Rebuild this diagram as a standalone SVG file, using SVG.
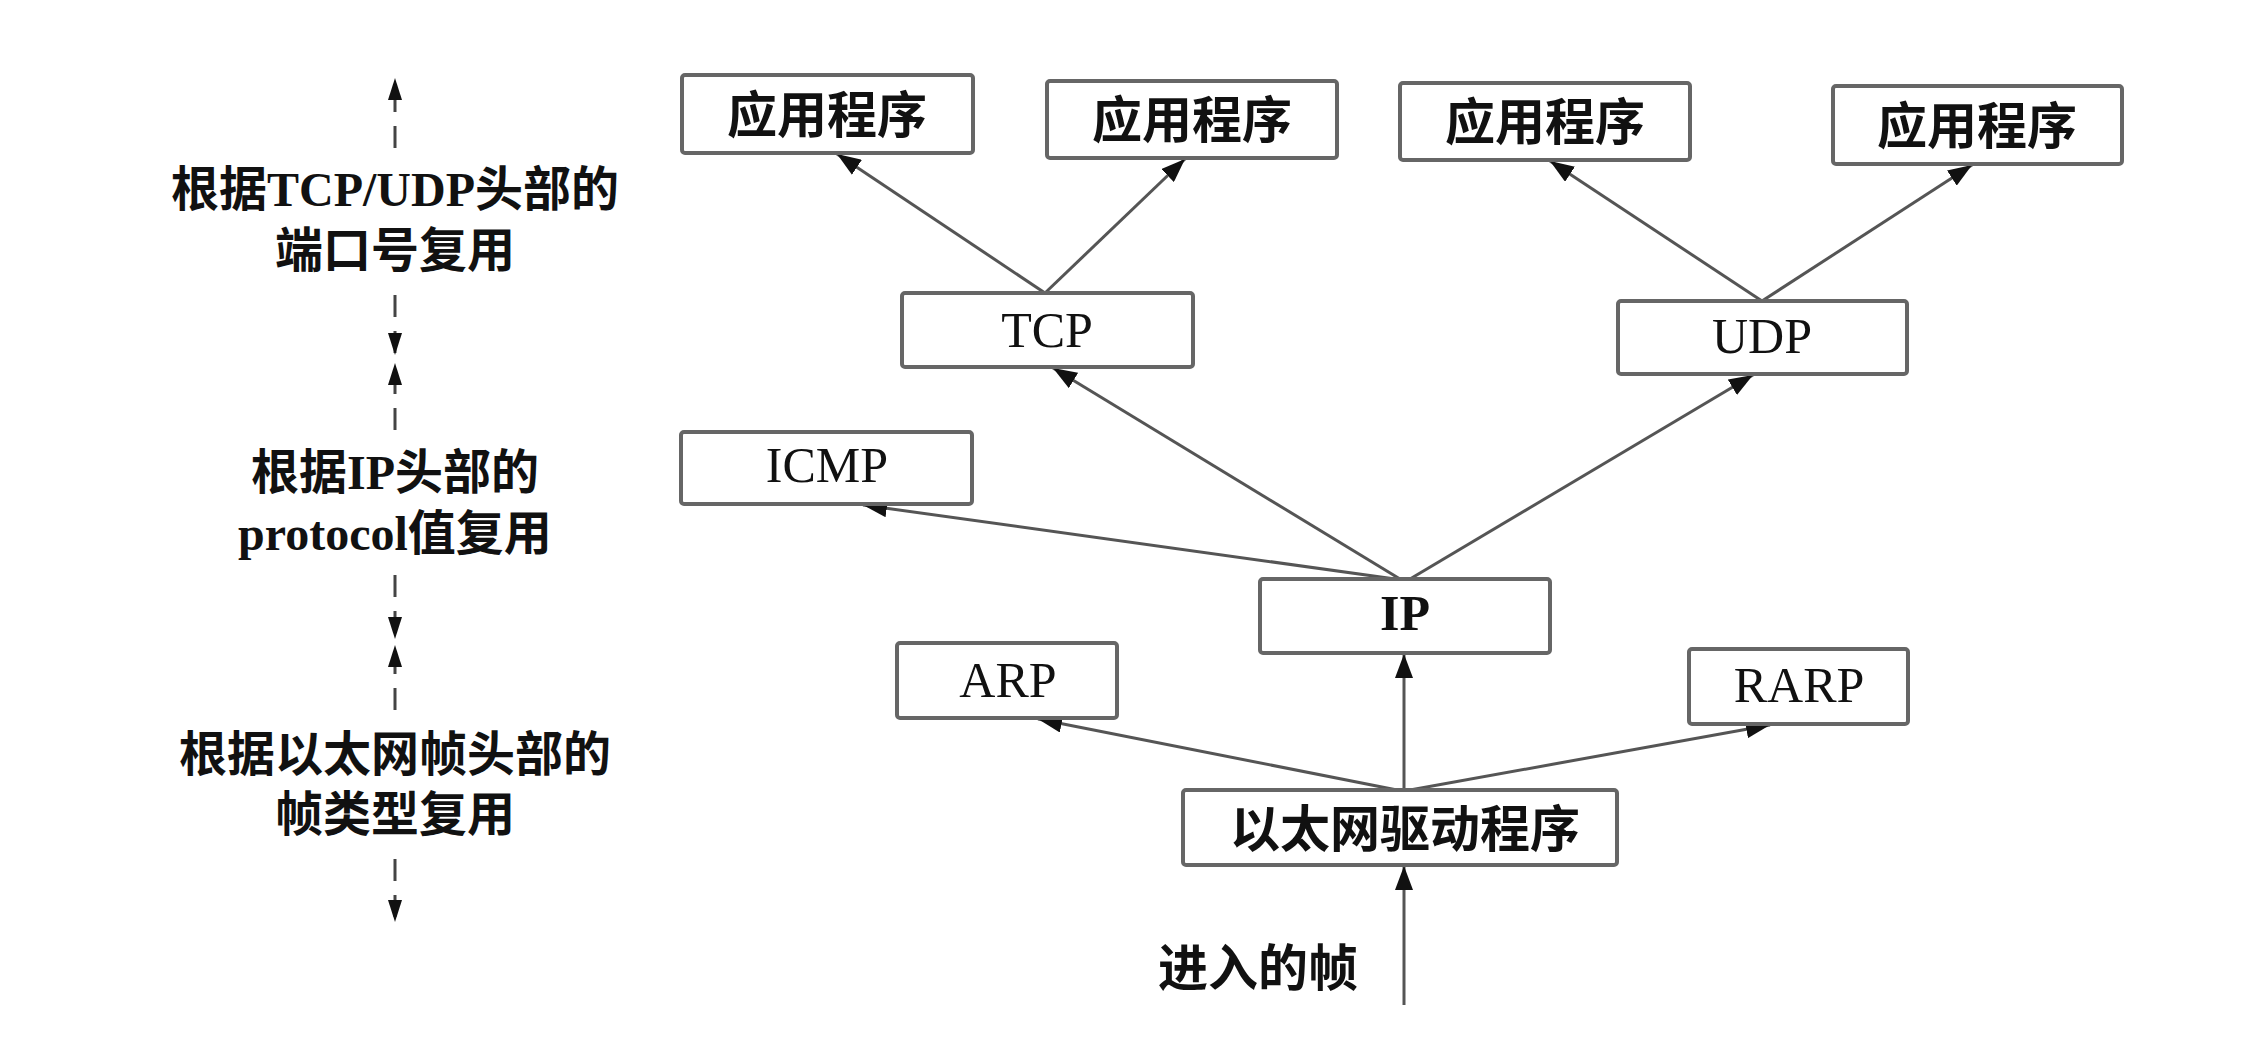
<svg xmlns="http://www.w3.org/2000/svg" width="2262" height="1044" viewBox="0 0 2262 1044">
<style>
.box{fill:#fff;stroke:#666;stroke-width:4}
.lbl{font-family:"Liberation Serif","Noto Sans CJK SC",serif;font-size:50px;fill:#111;text-anchor:middle}
.cjk{font-family:"Noto Sans CJK SC","Liberation Serif",sans-serif;font-size:50px;fill:#111;text-anchor:middle;font-weight:bold}
.side{font-family:"Liberation Serif","Noto Sans CJK SC",serif;font-size:48px;fill:#111;text-anchor:middle;font-weight:bold}
.con{stroke:#555;stroke-width:3;fill:none;marker-end:url(#ah)}
.dash{stroke:#444;stroke-width:3;fill:none;stroke-dasharray:22 14}
.da{marker-end:url(#dh)}
</style>
<defs>
<marker id="ah" markerUnits="userSpaceOnUse" markerWidth="26" markerHeight="18" refX="24" refY="9" orient="auto">
<path d="M0,0 L24,9 L0,18 z" fill="#111"/>
</marker>
<marker id="dh" markerUnits="userSpaceOnUse" markerWidth="24" markerHeight="14" refX="22" refY="7" orient="auto">
<path d="M0,0 L22,7 L0,14 z" fill="#111"/>
</marker>
</defs>
<g id="side-labels">
<text class="side" x="395" y="206">根据TCP/UDP头部的</text>
<text class="side" x="395" y="267">端口号复用</text>
<text class="side" x="395" y="489">根据IP头部的</text>
<text class="side" x="395" y="550">protocol值复用</text>
<text class="side" x="395" y="771">根据以太网帧头部的</text>
<text class="side" x="395" y="831">帧类型复用</text>
</g>
<g id="dashed-arrows">
<path class="dash da" d="M395,148 L395,78"/>
<path class="dash da" d="M395,295 L395,355"/>
<path class="dash da" d="M395,430 L395,363"/>
<path class="dash da" d="M395,575 L395,639"/>
<path class="dash da" d="M395,710 L395,645"/>
<path class="dash da" d="M395,859 L395,922"/>
</g>
<g id="connectors">
<path class="con" d="M1045,293 L837,154"/>
<path class="con" d="M1045,293 L1185,159"/>
<path class="con" d="M1762,301 L1550,161"/>
<path class="con" d="M1762,301 L1972,165"/>
<path class="con" d="M1400,579 L1053,368"/>
<path class="con" d="M1410,579 L1753,375"/>
<path class="con" d="M1395,579 L863,505"/>
<path class="con" d="M1404,790 L1404,654"/>
<path class="con" d="M1397,790 L1038,719"/>
<path class="con" d="M1410,790 L1770,725"/>
<path class="con" d="M1404,1005 L1404,866"/>
</g>
<g id="app1"><rect class="box" x="682" y="75" width="291" height="78" rx="3"/><text class="cjk" x="827" y="133">应用程序</text></g>
<g id="app2"><rect class="box" x="1047" y="81" width="290" height="77" rx="3"/><text class="cjk" x="1192" y="138">应用程序</text></g>
<g id="app3"><rect class="box" x="1400" y="83" width="290" height="77" rx="3"/><text class="cjk" x="1545" y="140">应用程序</text></g>
<g id="app4"><rect class="box" x="1833" y="86" width="289" height="78" rx="3"/><text class="cjk" x="1977" y="144">应用程序</text></g>
<g id="tcp"><rect class="box" x="902" y="293" width="291" height="74" rx="3"/><text class="lbl" x="1047" y="347">TCP</text></g>
<g id="udp"><rect class="box" x="1618" y="301" width="289" height="73" rx="3"/><text class="lbl" x="1762" y="353">UDP</text></g>
<g id="icmp"><rect class="box" x="681" y="432" width="291" height="72" rx="3"/><text class="lbl" x="827" y="482">ICMP</text></g>
<g id="ip"><rect class="box" x="1260" y="579" width="290" height="74" rx="3"/><text class="lbl" x="1405" y="630" font-weight="bold">IP</text></g>
<g id="arp"><rect class="box" x="897" y="643" width="220" height="75" rx="3"/><text class="lbl" x="1008" y="697">ARP</text></g>
<g id="rarp"><rect class="box" x="1689" y="649" width="219" height="75" rx="3"/><text class="lbl" x="1799" y="702">RARP</text></g>
<g id="eth"><rect class="box" x="1183" y="790" width="434" height="75" rx="3"/><text class="cjk" x="1405" y="847">以太网驱动程序</text></g>
<g id="incoming-label"><text class="cjk" x="1258" y="986" font-size="48">进入的帧</text></g>
</svg>
